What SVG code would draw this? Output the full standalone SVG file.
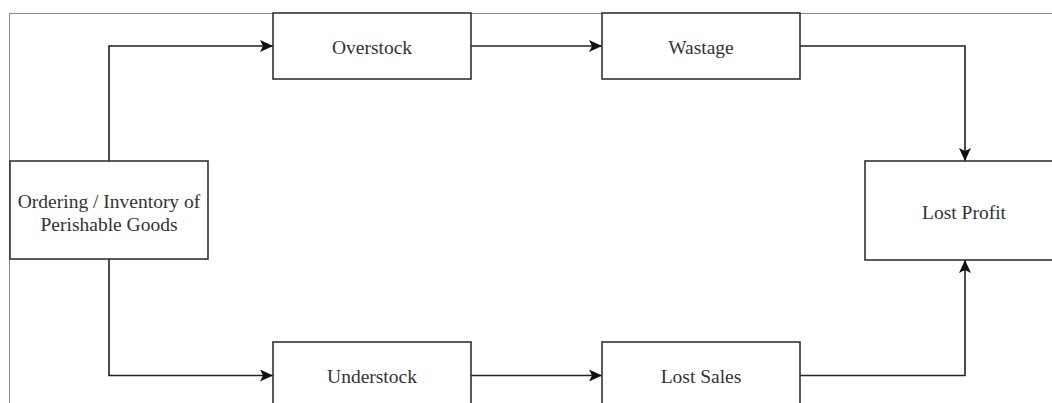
<svg xmlns="http://www.w3.org/2000/svg" width="1052" height="403" viewBox="0 0 1052 403">
  <style>
    .box { fill: #ffffff; stroke: #333333; stroke-width: 1.6; }
    .lbl { font-family: "Liberation Serif", "Times New Roman", serif; font-size: 19.5px; fill: #333333; text-anchor: middle; }
    .edge { fill: none; stroke: #222222; stroke-width: 1.6; marker-end: url(#arrow); }
    .frame { stroke: #8a8a8a; stroke-width: 1; fill: none; }
  </style>
  <defs>
    <marker id="arrow" viewBox="0 0 14 12" refX="13" refY="6" markerWidth="14" markerHeight="12" markerUnits="userSpaceOnUse" orient="auto">
      <path d="M0,0 L13,6 L0,12 L3,6 Z" fill="#111111"/>
    </marker>
  </defs>
  <rect width="1052" height="403" fill="#ffffff"/>
  <g id="frame">
    <line class="frame" x1="9.5" y1="13" x2="9.5" y2="403"/>
    <line class="frame" x1="9" y1="13.5" x2="1052" y2="13.5"/>
  </g>
  <g id="connectors">
    <path class="edge" d="M109,161 L109,46 L273,46"/>
    <path class="edge" d="M109,259 L109,375.5 L273,375.5"/>
    <path class="edge" d="M471,46 L602,46"/>
    <path class="edge" d="M471,375.5 L602,375.5"/>
    <path class="edge" d="M800,46 L965,46 L965,161"/>
    <path class="edge" d="M800,375.5 L965,375.5 L965,260"/>
  </g>
  <g id="node-ordering">
    <rect class="box" x="10" y="161" width="198" height="98"/>
    <text class="lbl" x="109" y="208">Ordering / Inventory of</text>
    <text class="lbl" x="109" y="230.5">Perishable Goods</text>
  </g>
  <g id="node-overstock">
    <rect class="box" x="273" y="13" width="198" height="66"/>
    <text class="lbl" x="372" y="53.5">Overstock</text>
  </g>
  <g id="node-wastage">
    <rect class="box" x="602" y="13" width="198" height="66"/>
    <text class="lbl" x="701" y="53.5">Wastage</text>
  </g>
  <g id="node-understock">
    <rect class="box" x="273" y="342" width="198" height="67"/>
    <text class="lbl" x="372" y="383">Understock</text>
  </g>
  <g id="node-lostsales">
    <rect class="box" x="602" y="342" width="198" height="67"/>
    <text class="lbl" x="701" y="383">Lost Sales</text>
  </g>
  <g id="node-lostprofit">
    <rect class="box" x="865" y="161" width="200" height="99"/>
    <text class="lbl" x="964" y="218.5">Lost Profit</text>
  </g>
</svg>
